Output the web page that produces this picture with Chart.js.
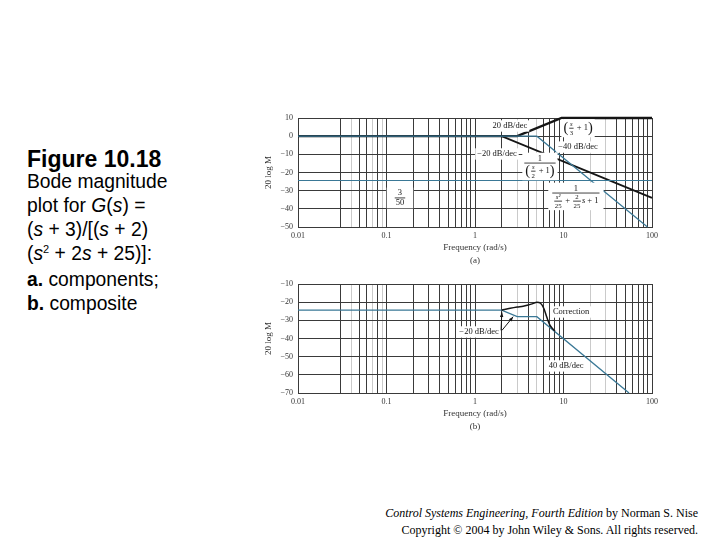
<!DOCTYPE html>
<html>
<head>
<meta charset="utf-8">
<script src="https://cdn.jsdelivr.net/npm/chart.js@4/dist/chart.umd.min.js"></script>
<style>
  body { margin: 0; background: #fff; width: 720px; height: 540px; position: relative; overflow: hidden; }
  canvas { position: absolute; left: 255px; }
  #caption { position: absolute; left: 27px; top: 148px; font-family: "Liberation Sans", Arial, sans-serif; font-size: 19.3px; line-height: 24px; color: #000; }
  #caption .fig { font-weight: bold; font-size: 23px; line-height: 22px; }
  #caption .sq { font-size: 11px; position: relative; top: -7px; }
  #footer { position: absolute; right: 22px; top: 505px; text-align: right; font-family: "Liberation Serif", serif; font-size: 12px; line-height: 17px; color: #000; }
</style>
</head>
<body>
<div id="caption">
  <div class="fig">Figure 10.18</div>
  Bode magnitude<br>
  plot for <i>G</i>(<i>s</i>) =<br>
  (<i>s</i> + 3)/[(<i>s</i> + 2)<br>
  (<i>s</i><span class="sq">2</span> + 2<i>s</i> + 25)]:<br>
  <b>a.</b> components;<br>
  <b>b.</b> composite
</div>
<canvas id="chartA" width="410" height="165" style="top:105px"></canvas>
<canvas id="chartB" width="410" height="165" style="top:271px"></canvas>
<div id="footer">
  <i>Control Systems Engineering, Fourth Edition</i> by Norman S. Nise<br>
  Copyright © 2004 by John Wiley &amp; Sons. All rights reserved.
</div>
<script>

// frequency axis (rad/s)
const decades = [0.01, 0.1, 1, 10, 100];
const decadeLabels = ['0.01', '0.1', '1', '10', '100'];
const darkGrid = [0.03, 0.05, 0.06, 0.08, 0.2, 0.3, 0.4, 0.5, 0.6, 0.7, 0.8, 0.9, 2, 4, 6, 7, 8, 9, 40, 50, 60, 70, 80, 90];
const lightGrid = [0.04, 0.07, 0.09, 3, 5, 20, 30];

// (a) components, asymptotes in dB
const poleFreq = [0.01, 2, 100];
const poleDb = [0, 0, -34];
const zeroFreq = [0.01, 3, 9.5, 100];
const zeroDb = [0, 0, 10, 10];
const quadFreq = [0.01, 5, 88.9];
const quadDb = [0, 0, -50];
const gainFreq = [0.01, 100];
const gainDb = [-24.4, -24.4];

// (b) composite
const compFreq = [0.01, 2, 3, 5, 55];
const compDb = [-24.4, -24.4, -28, -28, -70];
const corrFreq = [2, 2.5, 3, 3.5, 4, 4.5, 5, 5.5, 6, 6.5, 7, 7.5, 8];
const corrDb = [-24.4, -23.4, -22.7, -22.2, -21.6, -20.8, -20.1, -20.6, -23.5, -28.5, -32.5, -34.5, -36];

const BLACK = '#151515';
const BLUE = '#3a7896';
const FS = 8.5;

function near(list, v) {
  return list.findIndex(f => Math.abs(f - v) / f < 1e-6);
}

function pts(fs, ds) {
  return fs.map((f, i) => ({x: f, y: ds[i]}));
}

function line(fs, ds, color, width, smooth) {
  return {
    data: pts(fs, ds),
    borderColor: color,
    borderWidth: width,
    pointRadius: 0,
    fill: false,
    tension: smooth ? 0.4 : 0,
    cubicInterpolationMode: smooth ? 'monotone' : 'default',
    clip: 4
  };
}

// --- little text layout for the annotations (fractions etc)
function fnt(sz, it) {
  return (it ? 'italic ' : '') + sz + 'px "Liberation Serif", serif';
}

function tokWidth(ctx, t) {
  if (typeof t === 'string') { ctx.font = fnt(FS); return ctx.measureText(t).width; }
  if (t.i) { ctx.font = fnt(FS, true); return ctx.measureText(t.i).width; }
  if (t.p) { ctx.font = fnt(FS * 1.7); return ctx.measureText(t.p).width; }
  ctx.font = fnt(FS * 0.8, t.it);
  return Math.max(ctx.measureText(t.n).width, ctx.measureText(t.d).width) + 3;
}

function rowWidth(ctx, row) {
  return row.reduce((s, t) => s + tokWidth(ctx, t), 0);
}

function rowHeight(row) {
  return row.some(t => typeof t === 'object' && t.n) ? FS * 1.9 : FS * 1.1;
}

function drawRow(ctx, row, x0, cy) {
  let x = x0;
  row.forEach(t => {
    const w = tokWidth(ctx, t);
    if (typeof t === 'string' || t.i || t.p) {
      ctx.fillText(typeof t === 'string' ? t : (t.i || t.p), x, cy);
    } else {
      ctx.textAlign = 'center';
      ctx.font = fnt(FS * 0.8, t.it);
      ctx.fillText(t.n, x + w / 2, cy - FS * 0.5);
      ctx.font = fnt(FS * 0.8);
      ctx.fillText(t.d, x + w / 2, cy + FS * 0.55);
      ctx.textAlign = 'left';
      ctx.fillRect(x + 1, cy - 0.4, w - 2, 0.8);
    }
    x += w;
  });
}

function drawNote(ctx, px, py, note) {
  ctx.textBaseline = 'middle';
  ctx.textAlign = 'left';
  const pad = note.pad || 2;
  if (note.den) {
    const wn = rowWidth(ctx, note.num), wd = rowWidth(ctx, note.den);
    const w = Math.max(wn, wd) + 2;
    const hn = rowHeight(note.num), hd = rowHeight(note.den);
    if (note.bg) {
      ctx.fillStyle = '#fff';
      ctx.fillRect(px - w / 2 - pad, py - hn - 1, w + pad * 2, hn + hd + 2);
    }
    ctx.fillStyle = BLACK;
    drawRow(ctx, note.num, px - wn / 2, py - hn / 2);
    ctx.fillRect(px - w / 2, py - 0.4, w, 0.8);
    drawRow(ctx, note.den, px - wd / 2, py + hd / 2);
  } else {
    const w = rowWidth(ctx, note.row), h = rowHeight(note.row);
    const x0 = note.align === 'left' ? px : note.align === 'right' ? px - w : px - w / 2;
    if (note.bg) {
      ctx.fillStyle = '#fff';
      ctx.fillRect(x0 - pad, py - h / 2 - 1, w + pad * 2, h + 2);
    }
    ctx.fillStyle = BLACK;
    drawRow(ctx, note.row, x0, py);
  }
}

// plugin built per chart so the note arrays are not touched by the option resolver
function notesPlugin(notes) {
  return {
    id: 'notes',
    afterDatasetsDraw(chart) {
      const ctx = chart.ctx;
      const xs = chart.scales.x, ys = chart.scales.y;
      ctx.save();
      (notes.items || []).forEach(n => {
        drawNote(ctx, xs.getPixelForValue(n.f), ys.getPixelForValue(n.db), n);
      });
      (notes.arrows || []).forEach(a => {
        const x1 = xs.getPixelForValue(a.from[0]), y1 = ys.getPixelForValue(a.from[1]);
        const x2 = xs.getPixelForValue(a.to[0]), y2 = ys.getPixelForValue(a.to[1]);
        const ang = Math.atan2(y2 - y1, x2 - x1);
        ctx.strokeStyle = BLACK;
        ctx.fillStyle = BLACK;
        ctx.lineWidth = 1;
        ctx.beginPath();
        ctx.moveTo(x1, y1);
        ctx.lineTo(x2, y2);
        ctx.stroke();
        ctx.beginPath();
        ctx.moveTo(x2, y2);
        ctx.lineTo(x2 - 5 * Math.cos(ang - 0.35), y2 - 5 * Math.sin(ang - 0.35));
        ctx.lineTo(x2 - 5 * Math.cos(ang + 0.35), y2 - 5 * Math.sin(ang + 0.35));
        ctx.closePath();
        ctx.fill();
      });
      ctx.restore();
    }
  };
}

const gridFreqs = [...decades, ...darkGrid, ...lightGrid].sort((a, b) => a - b);

function makeChart(id, datasets, yMin, yMax, tag, notes) {
  return new Chart(document.getElementById(id), {
    type: 'line',
    data: {datasets: datasets},
    plugins: [notesPlugin(notes)],
    options: {
      responsive: false,
      animation: false,
      layout: {padding: {left: 0, top: 13, right: 13, bottom: 0}},
      plugins: {
        legend: {display: false},
        tooltip: {enabled: false}
      },
      scales: {
        x: {
          type: 'logarithmic',
          min: 0.01,
          max: 100,
          afterBuildTicks: scale => { scale.ticks = gridFreqs.map(v => ({value: v})); },
          afterFit: scale => { scale.height = 43; },
          ticks: {
            autoSkip: false,
            maxRotation: 0,
            padding: 4,
            color: '#333',
            font: {family: '"Liberation Serif", serif', size: 8},
            callback: v => { const i = near(decades, v); return i >= 0 ? decadeLabels[i] : ''; }
          },
          grid: {
            drawTicks: false,
            lineWidth: 1,
            color: ctx => {
              const v = ctx.tick ? ctx.tick.value : 0;
              if (near(decades, v) >= 0 || near(darkGrid, v) >= 0) return '#3a3a3a';
              if (near(lightGrid, v) >= 0) return '#cacaca';
              return 'rgba(0,0,0,0)';
            }
          },
          border: {color: '#3a3a3a'},
          title: {
            display: true,
            text: ['Frequency (rad/s)', tag],
            color: '#333',
            padding: {top: 0, bottom: 2.5},
            font: {family: '"Liberation Serif", serif', size: 9, lineHeight: 1.45}
          }
        },
        y: {
          min: yMin,
          max: yMax,
          afterFit: scale => { scale.width = 43; },
          ticks: {
            stepSize: 10,
            padding: 5,
            color: '#333',
            font: {family: '"Liberation Serif", serif', size: 8},
            callback: v => v < 0 ? '\u2212' + (-v) : String(v)
          },
          grid: {drawTicks: false, color: '#3a3a3a', lineWidth: 1},
          border: {color: '#3a3a3a'},
          title: {
            display: true,
            text: '20 log M',
            color: '#333',
            padding: {top: 8, bottom: 0},
            font: {family: '"Liberation Serif", serif', size: 9}
          }
        }
      }
    }
  });
}

makeChart('chartA', [
  line(quadFreq, quadDb, BLUE, 1.2),
  line(gainFreq, gainDb, BLUE, 1.2),
  line(poleFreq, poleDb, BLACK, 1.8),
  line(zeroFreq, zeroDb, BLACK, 2.4)
], -50, 10, '(a)', {
  items: [
    {f: 2.48, db: 5.6, row: ['20 dB/dec'], bg: true},
    {f: 14.6, db: 4.4, row: [{p: '('}, {n: 's', d: '3', it: true}, ' + 1', {p: ')'}], bg: true},
    {f: 14.6, db: -6, row: ['\u221240 dB/dec'], bg: true},
    {f: 1.77, db: -9.8, row: ['\u221220 dB/dec'], bg: true},
    {f: 5.42, db: -14.8, num: ['1'], den: [{p: '('}, {n: 's', d: '2', it: true}, ' + 1', {p: ')'}], bg: true},
    {f: 0.142, db: -34, num: ['3'], den: ['50'], bg: true, pad: 8},
    {f: 13.8, db: -31.3, num: ['1'], den: [{n: 's\u00b2', d: '25', it: true}, ' + ', {n: '2', d: '25'}, {i: 's'}, ' + 1'], bg: true, pad: 4}
  ]
});

makeChart('chartB', [
  line(corrFreq, corrDb, BLACK, 1.5, true),
  line(compFreq, compDb, BLUE, 1.3)
], -70, -10, '(b)', {
  items: [
    {f: 7.6, db: -25.4, row: ['Correction'], align: 'left', bg: true},
    {f: 1.86, db: -36.4, row: ['\u221220 dB/dec'], align: 'right', bg: true},
    {f: 10.7, db: -55.1, row: ['40 dB/dec'], bg: true}
  ],
  arrows: [
    {from: [1.97, -35.5], to: [2.01, -25.6]},
    {from: [2.02, -35.5], to: [2.7, -28]}
  ]
});
</script>
</body>
</html>
